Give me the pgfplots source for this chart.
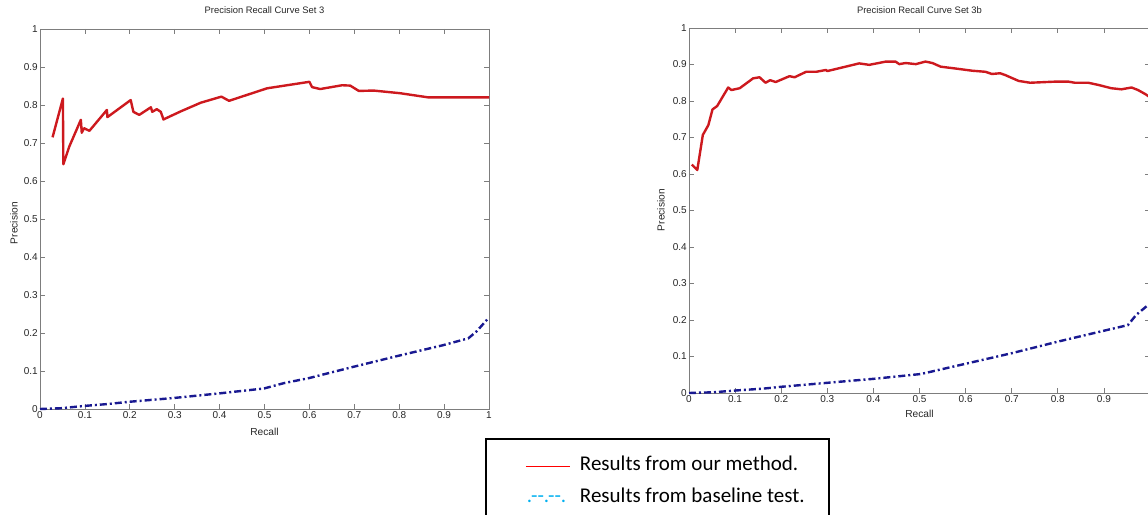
\documentclass[border=0pt]{standalone}
\usepackage{fontspec}
\setmainfont{Liberation Sans}
\newfontfamily\calibri{Carlito}
\usepackage{pgfplots}
\pgfplotsset{compat=1.18}

\definecolor{ourred}{RGB}{205,25,30}
\definecolor{basenavy}{RGB}{25,25,145}
\definecolor{legred}{RGB}{255,0,0}
\definecolor{legblue}{RGB}{0,176,240}
\definecolor{axgray}{RGB}{125,125,125}

\pgfplotsset{prcurve/.style={
  scale only axis, clip=false,
  xmin=0, xmax=1, ymin=0, ymax=1,
  xtick={0,0.1,...,1}, ytick={0,0.1,...,1},
  tick align=inside, major tick length=5pt,
  axis line style={axgray, line width=0.8pt},
  every tick/.style={axgray, line width=0.8pt},
  /pgf/number format/assume math mode=true,
  tick label style={font=\fontsize{10}{11}\selectfont, text=black!85},
  label style={font=\fontsize{10.2}{11}\selectfont, text=black!85},
  title style={font=\fontsize{9.4}{11}\selectfont, text=black!85, at={(0.5,1)}, anchor=base},
  xticklabel style={inner sep=2pt},
  yticklabel style={inner sep=2pt},
  xlabel={Recall}, ylabel={Precision},
  ourline/.style={ourred, line width=2.4pt, line join=round, forget plot},
  baseline/.style={basenavy, line width=2.4pt, dash pattern=on 7pt off 3pt on 2pt off 3pt, forget plot},
}}

\begin{document}
\begin{tikzpicture}
\useasboundingbox (0,0) rectangle (1148pt,514pt);

\begin{axis}[prcurve, at={(40pt,105pt)}, anchor=south west, width=449pt, height=380pt,
  title={Precision Recall Curve Set 3}, title style={yshift=9pt},
  xlabel style={at={(axis description cs:0.5,0)}, anchor=base, yshift=-26pt},
  ylabel style={at={(axis description cs:-0.058,0.489)}, anchor=center},
  legend cell align=left,
  legend style={at={(0.991,-0.0763)}, anchor=north west, draw=black, line width=2pt,
    font=\calibri\fontsize{21}{24}\selectfont, inner xsep=24pt, inner ysep=18pt,
    row sep=13pt, column sep=9pt,
    nodes={inner sep=0pt, text height=14pt, text depth=5pt}}]
\addplot[ourline] coordinates {
(0.028,0.715) (0.051,0.817) (0.052,0.644) (0.065,0.690) (0.091,0.761) (0.093,0.727)
(0.098,0.739) (0.110,0.732) (0.149,0.787) (0.150,0.768) (0.202,0.813) (0.208,0.782)
(0.221,0.774) (0.247,0.794) (0.250,0.782) (0.260,0.789) (0.269,0.782) (0.275,0.762)
(0.313,0.783) (0.358,0.806) (0.404,0.822) (0.421,0.811) (0.506,0.844) (0.600,0.861)
(0.606,0.847) (0.624,0.842) (0.673,0.852) (0.691,0.851) (0.710,0.837) (0.743,0.838)
(0.802,0.831) (0.865,0.820) (1.000,0.820)};
\addplot[baseline] coordinates {
(0,0) (0.047,0.002) (0.098,0.008) (0.150,0.013) (0.199,0.019) (0.298,0.029)
(0.399,0.041) (0.499,0.054) (0.543,0.068) (0.598,0.081) (0.698,0.111) (0.798,0.140)
(0.898,0.168) (0.954,0.186) (0.973,0.205) (1.000,0.241)};
\addlegendimage{legend image code/.code={\path (0pt,0pt); \draw[legred, line width=1.8pt] (15pt,0pt) -- (59pt,0pt);}}
\addlegendentry{Results from our method.}
\addlegendimage{legend image code/.code={\path (0pt,0pt) (59pt,0pt);
  \node[anchor=base west, inner sep=0pt, text=legblue] at (15pt,-4.5pt) {.-{}-.-{}-.};}}
\addlegendentry{Results from baseline test.}
\end{axis}

\begin{axis}[prcurve, at={(689pt,121pt)}, anchor=south west, width=461pt, height=365pt,
  xticklabels={0,0.1,0.2,0.3,0.4,0.5,0.6,0.7,0.8,0.9,{}},
  title={Precision Recall Curve Set 3b}, title style={yshift=8pt},
  xlabel style={at={(axis description cs:0.5,0)}, anchor=base, yshift=-25pt},
  ylabel style={at={(axis description cs:-0.061,0.501)}, anchor=center}]
\addplot[ourline] coordinates {
(0.006,0.626) (0.018,0.611) (0.030,0.707) (0.042,0.734) (0.051,0.777) (0.061,0.786)
(0.085,0.837) (0.092,0.830) (0.110,0.835) (0.139,0.862) (0.153,0.865) (0.166,0.850)
(0.176,0.857) (0.188,0.852) (0.218,0.868) (0.229,0.865) (0.254,0.880) (0.276,0.880)
(0.297,0.885) (0.300,0.882) (0.333,0.892) (0.369,0.903) (0.391,0.899) (0.427,0.908)
(0.448,0.908) (0.456,0.901) (0.470,0.904) (0.492,0.901) (0.513,0.908) (0.528,0.904)
(0.546,0.894) (0.578,0.889) (0.614,0.883) (0.643,0.880) (0.657,0.874) (0.675,0.876)
(0.686,0.871) (0.715,0.855) (0.740,0.850) (0.794,0.853) (0.823,0.853) (0.837,0.850)
(0.866,0.850) (0.888,0.844) (0.916,0.835) (0.938,0.832) (0.960,0.837) (0.974,0.830)
(0.991,0.818) (1.000,0.810)};
\addplot[baseline] coordinates {
(0,0) (0.053,0.002) (0.103,0.007) (0.161,0.012) (0.200,0.017) (0.301,0.028)
(0.402,0.039) (0.503,0.052) (0.603,0.081) (0.700,0.109) (0.801,0.141) (0.898,0.170)
(0.952,0.186) (0.970,0.214) (0.991,0.236) (1.000,0.245)};
\end{axis}
\end{tikzpicture}
\end{document}
